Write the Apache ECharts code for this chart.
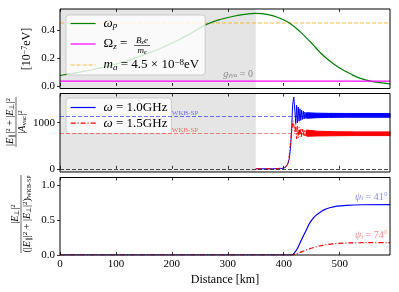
<!DOCTYPE html>
<html><head><meta charset="utf-8">
<script src="https://cdn.jsdelivr.net/npm/echarts@6/dist/echarts.min.js"></script>
<style>html,body{margin:0;padding:0;background:#fff}#c{width:399px;height:292px}</style>
</head><body><div id="c"></div>
<script>
// ---------- data ----------
const xTicks = [0, 100, 200, 300, 400, 500];
const xMax = 590;
const shadeEnd = 350;
const p1Ticks = [0, 0.2, 0.4];
const p2Ticks = [0, 1000];
const p3Ticks = [0, 0.5, 1.0];

// panel 1 (10^-7 eV)
const omegaP = [[0,0.075],[30,0.095],[60,0.118],[90,0.145],[120,0.18],[150,0.222],[180,0.27],[210,0.325],[238,0.385],[262,0.44],[286,0.475],[310,0.498],[330,0.512],[350,0.519],[370,0.512],[390,0.489],[410,0.45],[430,0.385],[450,0.305],[465,0.24],[480,0.185],[500,0.128],[520,0.085],[536,0.056],[555,0.035],[571,0.024],[590,0.015]];
const omegaZ = [[0,0.035],[590,0.035]];
const axionMass = [[0,0.45],[590,0.45]];

// panel 2 (|E|^2/|A_vac|^2)
const blueRise = [[350,0],[380,0],[395,4],[400,12],[404,40],[407,100],[410,220],[412,450],[414,800],[416,1400],[418,1555],[420,1250],[421.5,980],[423,1380],[424.5,1000],[426,1340],[427.5,1030],[429,1300],[430.5,1050],[432,1270],[433.5,1070],[435,1250],[436.5,1080],[438,1230],[439.5,1095],[441,1215]];
const redRise = [[350,0],[385,0],[400,20],[405,60],[408,130],[410,300],[412,560],[414,800],[415.5,950],[417,1040],[418.5,1000],[420,780],[421.5,960],[423,650],[424.5,930],[426,670],[427.5,900],[429,690],[430.5,880],[432,700],[433.5,860],[435,705],[436.5,850],[438,710],[439.5,840],[441,712]];
const blueLower = [[441,1095],[460,1108],[480,1115],[510,1118],[590,1118]];
const blueUpper = [[441,1215],[460,1206],[480,1202],[510,1200],[590,1198]];
const redLower = [[441,705],[460,712],[490,717],[530,720],[590,720]];
const redUpper = [[441,840],[460,815],[490,805],[530,800],[590,800]];
const wkbBlue = 1145;
const wkbRed = 770;

// panel 3 (fraction)
const blueFrac = [[0,0],[414,0],[420,0.04],[425,0.1],[429,0.17],[435,0.27],[440,0.35],[446,0.45],[452,0.52],[458,0.57],[464,0.605],[472,0.645],[482,0.675],[495,0.698],[512,0.71],[540,0.718],[590,0.72]];
const redFrac = [[0,0],[414,0],[420,0.012],[428,0.033],[436,0.058],[446,0.088],[455,0.11],[464,0.129],[475,0.147],[488,0.16],[500,0.167],[520,0.173],[550,0.176],[590,0.177]];

// ---------- styles ----------
const F = 'Liberation Serif';
const R = {
  t:{fontFamily:F,fontSize:13,color:'#000',lineHeight:14},
  i:{fontFamily:F,fontSize:13,fontStyle:'italic',color:'#000',lineHeight:14},
  s:{fontFamily:F,fontSize:9,fontStyle:'italic',color:'#000',lineHeight:7,verticalAlign:'bottom'},
  sup:{fontFamily:F,fontSize:9,color:'#000',lineHeight:7,verticalAlign:'top'}
};
const BLUE = '#0000ff', RED = '#ff0000', GREEN = '#008000', MAGENTA = '#ff00ff', ORANGE = 'rgba(255,165,0,0.75)';
const dashDot = [5,2,1,2];

function xAx(g, showLabel, pos){
  return {gridIndex:g, type:'value', min:0, max:xMax, position:pos, z:10,
    axisLine:{show:false},
    axisTick:{show:true, inside:true, length:3, customValues:xTicks, lineStyle:{color:'#000',width:0.8}},
    axisLabel:{show:showLabel, customValues:xTicks, margin:4, fontFamily:F, fontSize:11, color:'#000'},
    splitLine:{show:false},
    name: showLabel ? 'Distance [km]' : '', nameLocation:'middle', nameGap:19,
    nameTextStyle:{fontFamily:F, fontSize:12, color:'#000'}};
}
function yAx(g, min, max, ticks, fmt){
  return {gridIndex:g, type:'value', min:min, max:max, z:10,
    axisLine:{show:false},
    axisTick:{show:true, inside:false, length:3, customValues:ticks, lineStyle:{color:'#000',width:0.8}},
    axisLabel:{customValues:ticks, margin:5, formatter:fmt, fontFamily:F, fontSize:11, color:'#000'},
    splitLine:{show:false}};
}
const fmt1 = v => v.toFixed(1);
const fmt0 = v => String(Math.round(v));

// band drawn from its upper and lower envelopes through the axis scales
function bandSeries(name, upper, lower, color, z){
  return {name:name, type:'custom', xAxisIndex:2, yAxisIndex:1, z:z, silent:true,
    data:[[upper[0][0], upper[0][1]]],
    renderItem:function(params, api){
      const pts = upper.map(p=>api.coord(p)).concat(lower.slice().reverse().map(p=>api.coord(p)));
      return {type:'polygon', shape:{points:pts}, style:{fill:color, stroke:color, lineWidth:1}};
    }};
}

const labelRich = (col, fs) => ({
  t:{fontFamily:F,fontSize:fs,color:col},
  i:{fontFamily:F,fontSize:fs,fontStyle:'italic',color:col},
  s:{fontFamily:F,fontSize:fs-3,fontStyle:'italic',color:col,lineHeight:6,verticalAlign:'bottom'}
});
const subRich = {a:{fontFamily:F,fontSize:10,lineHeight:11},i:{fontFamily:F,fontSize:10,fontStyle:'italic',lineHeight:11},s:{fontFamily:F,fontSize:7,lineHeight:5,verticalAlign:'bottom'},p:{fontFamily:F,fontSize:7,lineHeight:5,verticalAlign:'top'},w:{fontFamily:F,fontSize:6,lineHeight:5,verticalAlign:'bottom'}};

const chart = echarts.init(document.getElementById('c'), null, {renderer:'canvas'});
chart.setOption({
  animation:false,
  backgroundColor:'#fff',
  grid:[
    {left:60, right:9, top:9, height:79.5, show:true, borderColor:'#000', borderWidth:1, z:10},
    {left:60, right:9, top:93.5, height:78.5, show:true, borderColor:'#000', borderWidth:1, z:10},
    {left:60, right:9, top:177.5, height:77.5, show:true, borderColor:'#000', borderWidth:1, z:10}
  ],
  xAxis:[xAx(0,false,'bottom'), xAx(0,false,'top'), xAx(1,false,'bottom'), xAx(1,false,'top'), xAx(2,true,'bottom'), xAx(2,false,'top')],
  yAxis:[yAx(0,-0.018,0.55,p1Ticks,fmt1), yAx(1,-70,1633,p2Ticks,fmt0), yAx(2,0,1.107,p3Ticks,fmt1)],
  legend:[{
    left:66, top:15, orient:'vertical', itemWidth:25, itemHeight:14, itemGap:7, padding:[2,6,3,4],
    backgroundColor:'rgba(255,255,255,0.8)', borderColor:'#cccccc', borderWidth:1, borderRadius:3,
    selectedMode:false, itemStyle:{opacity:0},
    data:[
      {name:'ωp', lineStyle:{color:GREEN, width:1.2, type:'solid'}},
      {name:'Ωz', lineStyle:{color:MAGENTA, width:1.2, type:'solid'}},
      {name:'ma', lineStyle:{color:ORANGE, width:1.2, type:[4,2]}}
    ],
    formatter: n => n==='ωp' ? '{i|ω}{s|p}' : n==='Ωz' ? '{t|Ω}{s|z}{t| =       }' : '{i|m}{s|a}{t| = 4.5 × 10}{sup|−8}{t|eV}',
    textStyle:{fontFamily:F, fontSize:13, padding:[0,0,0,3], rich:R}
  },{
    left:66, top:98, orient:'vertical', itemWidth:25, itemHeight:14, itemGap:2.7, padding:[3,4,4,4],
    backgroundColor:'rgba(255,255,255,0.8)', borderColor:'#cccccc', borderWidth:1, borderRadius:3,
    selectedMode:false, itemStyle:{opacity:0},
    data:[
      {name:'w1', lineStyle:{color:BLUE, width:1.2, type:'solid'}},
      {name:'w2', lineStyle:{color:RED, width:1.2, type:dashDot}}
    ],
    formatter: n => n==='w1' ? '{i|ω}{t| = 1.0GHz}' : '{i|ω}{t| = 1.5GHz}',
    textStyle:{fontFamily:F, fontSize:13, padding:[0,0,0,3], rich:R}
  }],
  series:[
    // panel 1
    {name:'ma', type:'line', xAxisIndex:0, yAxisIndex:0, data:axionMass, symbol:'none', z:2,
      lineStyle:{color:ORANGE, width:1, type:[4,2]},
      markArea:{silent:true, itemStyle:{color:'#e5e5e5'}, data:[[{xAxis:0},{xAxis:shadeEnd}]]},
      markPoint:{symbol:'circle', symbolSize:0, silent:true, data:[{coord:[345,0.086],
        label:{show:true, position:'left', distance:0, formatter:'{i|g}{s|γγa}{t| = 0}', rich:labelRich('#888',10)}}]}
    },
    {name:'ωp', type:'line', xAxisIndex:0, yAxisIndex:0, data:omegaP, symbol:'none', smooth:0.4, z:3,
      lineStyle:{color:GREEN, width:1.2}},
    {name:'Ωz', type:'line', xAxisIndex:0, yAxisIndex:0, data:omegaZ, symbol:'none', z:3,
      lineStyle:{color:MAGENTA, width:1.2}},
    // panel 2
    {name:'w1', type:'line', xAxisIndex:2, yAxisIndex:1, data:blueRise, symbol:'none', z:3,
      lineStyle:{color:BLUE, width:1},
      markArea:{silent:true, itemStyle:{color:'#e5e5e5'}, data:[[{xAxis:0},{xAxis:shadeEnd}]]},
      markLine:{silent:true, symbol:'none', label:{show:false}, data:[
        {yAxis:wkbBlue, lineStyle:{color:'rgba(0,0,255,0.55)', type:[4,2], width:1}},
        {yAxis:wkbRed, lineStyle:{color:'rgba(255,0,0,0.45)', type:[4,2], width:1}},
        {yAxis:0, lineStyle:{color:'rgba(0,0,0,0.7)', type:[4,2], width:1}}
      ]},
      markPoint:{symbol:'circle', symbolSize:0, silent:true, data:[
        {coord:[200,wkbBlue], label:{show:true, position:'right', distance:0, offset:[0,-3], formatter:'WKB-SP', fontFamily:F, fontSize:7, color:'rgba(0,0,255,0.55)'}},
        {coord:[200,wkbRed], label:{show:true, position:'right', distance:0, offset:[0,-3], formatter:'WKB-SP', fontFamily:F, fontSize:7, color:'rgba(255,0,0,0.55)'}}
      ]}
    },
    {name:'w2', type:'line', xAxisIndex:2, yAxisIndex:1, data:redRise, symbol:'none', z:4,
      lineStyle:{color:RED, width:1, type:dashDot}},
    bandSeries('bBand', blueUpper, blueLower, BLUE, 3),
    bandSeries('rBand', redUpper, redLower, RED, 4),
    // panel 3
    {name:'b3', type:'line', xAxisIndex:4, yAxisIndex:2, data:blueFrac, symbol:'none', smooth:0.3, z:3,
      lineStyle:{color:BLUE, width:1.2},
      markPoint:{symbol:'circle', symbolSize:0, silent:true, data:[{coord:[586,0.83],
        label:{show:true, position:'left', distance:0, formatter:'{i|ψ}{s|t}{t| = 41°}', rich:labelRich('rgba(0,0,255,0.5)',10)}}]}
    },
    {name:'r3', type:'line', xAxisIndex:4, yAxisIndex:2, data:redFrac, symbol:'none', smooth:0.3, z:4,
      lineStyle:{color:RED, width:1.2, type:dashDot},
      markPoint:{symbol:'circle', symbolSize:0, silent:true, data:[{coord:[586,0.28],
        label:{show:true, position:'left', distance:0, formatter:'{i|ψ}{s|t}{t| = 74°}', rich:labelRich('rgba(255,0,0,0.5)',10)}}]}
    }
  ],
  graphic:[
    // fraction in legend entry
    {type:'text', x:142, y:40.5, zlevel:1, z:100, style:{text:'{i|B}{s|z}{i|e}', rich:{i:{fontFamily:F,fontSize:9,fontStyle:'italic'},s:{fontFamily:F,fontSize:6,fontStyle:'italic',lineHeight:5,verticalAlign:'bottom'}}, align:'center', verticalAlign:'middle'}},
    {type:'line', zlevel:1, z:100, shape:{x1:134,y1:45.5,x2:150,y2:45.5}, style:{stroke:'#000', lineWidth:0.6}},
    {type:'text', x:142, y:50.5, zlevel:1, z:100, style:{text:'{i|m}{s|e}', rich:{i:{fontFamily:F,fontSize:9,fontStyle:'italic'},s:{fontFamily:F,fontSize:6,fontStyle:'italic',lineHeight:5,verticalAlign:'bottom'}}, align:'center', verticalAlign:'middle'}},
    // y labels
    {type:'text', x:27, y:49, rotation:Math.PI/2, z:100, style:{text:'{a|[10}{sup|−7}{a|eV]}', align:'center', verticalAlign:'middle',
      rich:{a:{fontFamily:F,fontSize:12,lineHeight:13}, sup:{fontFamily:F,fontSize:8,lineHeight:6,verticalAlign:'top'}}}},
    {type:'group', x:16, y:122, rotation:Math.PI/2, z:100, children:[
      {type:'text', x:0, y:-6, style:{text:'{a||}{i|E}{s|∥}{a||}{p|2}{a| + |}{i|E}{s|⊥}{a||}{p|2}', align:'center', verticalAlign:'middle', rich:subRich}},
      {type:'line', shape:{x1:-25,y1:0,x2:25,y2:0}, style:{stroke:'#000', lineWidth:0.6}},
      {type:'text', x:0, y:6, style:{text:'{a||}{i|A}{s|vac}{a||}{p|2}', align:'center', verticalAlign:'middle', rich:subRich}}
    ]},
    {type:'group', x:21, y:214, rotation:Math.PI/2, z:100, children:[
      {type:'text', x:0, y:-6, style:{text:'{a||}{i|E}{s|⊥}{a||}{p|2}', align:'center', verticalAlign:'middle', rich:subRich}},
      {type:'line', shape:{x1:-39,y1:0,x2:39,y2:0}, style:{stroke:'#000', lineWidth:0.6}},
      {type:'text', x:0, y:6, style:{text:'{a|(|}{i|E}{s|∥}{a||}{p|2}{a| + |}{i|E}{s|⊥}{a||}{p|2}{a|)}{w|WKB-SP}', align:'center', verticalAlign:'middle', rich:subRich}}
    ]}
  ]
});
</script></body></html>
